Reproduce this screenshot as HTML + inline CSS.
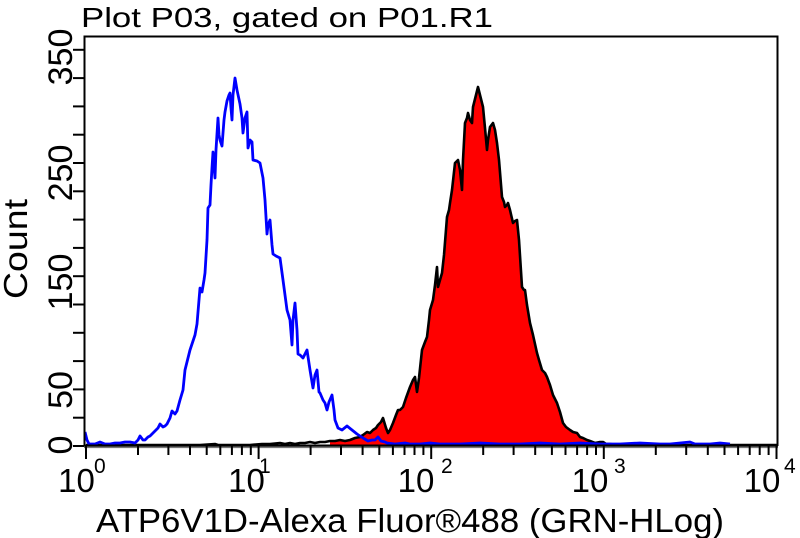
<!DOCTYPE html>
<html>
<head>
<meta charset="utf-8">
<style>
html,body{margin:0;padding:0;background:#fff;}
svg{display:block;}
text{font-family:"Liberation Sans",Arial,sans-serif;fill:#000;}
</style>
</head>
<body>
<svg width="800" height="538" viewBox="0 0 800 538" xmlns="http://www.w3.org/2000/svg">
<rect x="0" y="0" width="800" height="538" fill="#fff"/>

<!-- title -->
<text x="81" y="27" font-size="28" textLength="412" lengthAdjust="spacingAndGlyphs">Plot P03, gated on P01.R1</text>

<!-- red filled histogram -->
<polygon fill="#ff0000" stroke="none" points="330,446 330,441 340,440 350,440 355,438 360,437 363,435 367,432 370,433 373,430 376,428 378,425 381,422 383,418 386,428 388,433 390,430 393,423 396,415 398,410 400,410 403,407 406,398 410,387 413,380 415,377 417,392 419,378 422,350 425,342 427,337 429,320 430,310 433,300 435,285 437,267 438,287 440,280 442,273 444,255 447,217 449,210 450,203 452,190 455,163 458,160 460,170 462,190 463,160 465,123 467,118 468,113 470,120 472,123 473,107 476,95 478,87 480,95 482,103 483,107 485,128 487,150 488,140 490,127 493,123 495,130 497,143 499,160 502,197 504,202 505,207 507,205 508,203 510,210 513,223 515,221 517,220 519,240 522,287 524,290 525,290 527,305 530,323 533,335 537,353 539,360 542,370 545,373 547,377 550,385 553,395 557,403 560,412 563,423 566,427 570,430 573,432 577,433 580,437 583,438 587,440 590,441 595,443 600,442 603,442 606,444 610,446"/>

<!-- black outline -->
<polyline fill="none" stroke="#000" stroke-width="2.6" stroke-linejoin="round" points="86,445 150,445 200,445 215,444 218,445 250,445 262,444 270,444 280,443 285,444 290,443 295,444 300,443 305,443 310,442 315,443 320,442 325,442 330,441 335,441 340,440 345,441 350,440 355,438 360,437 363,435 367,432 370,433 373,430 376,428 378,425 381,422 383,418 386,428 388,433 390,430 393,423 396,415 398,410 400,410 403,407 406,398 410,387 413,380 415,377 417,392 419,378 422,350 425,342 427,337 429,320 430,310 433,300 435,285 437,267 438,287 440,280 442,273 444,255 447,217 449,210 450,203 452,190 455,163 458,160 460,170 462,190 463,160 465,123 467,118 468,113 470,120 472,123 473,107 476,95 478,87 480,95 482,103 483,107 485,128 487,150 488,140 490,127 493,123 495,130 497,143 499,160 502,197 504,202 505,207 507,205 508,203 510,210 513,223 515,221 517,220 519,240 522,287 524,290 525,290 527,305 530,323 533,335 537,353 539,360 542,370 545,373 547,377 550,385 553,395 557,403 560,412 563,423 566,427 570,430 573,432 577,433 580,437 583,438 587,440 590,441 595,443 600,442 603,442 606,444 610,444 620,445 640,444 660,445 700,445 778,445"/>

<!-- blue histogram -->
<polyline fill="none" stroke="#0000ff" stroke-width="2.8" stroke-linejoin="round" points="85,432 87,440 89,444 95,444 100,442 105,444 110,444 115,443 120,443 125,442 130,442 135,443 138,440 140,436 143,440 145,440 148,437 150,436 153,433 155,431 158,428 160,424 163,427 165,426 167,424 170,418 172,411 175,414 177,411 180,400 183,390 185,370 188,358 190,350 192,344 195,335 197,324 199,300 200,288 202,292 204,280 205,273 207,240 208,208 210,205 211,185 212,168 213,152 214,165 215,178 216,150 218,118 219,135 220,140 222,146 224,120 225,112 227,101 229,95 230,93 231,108 232,120 233,95 235,78 237,90 240,104 242,118 243,133 245,118 247,112 248,148 250,140 252,142 253,160 257,161 260,163 263,178 265,200 267,234 268,225 270,220 272,245 273,254 276,256 280,258 283,280 287,310 290,320 292,345 293,320 295,303 297,330 298,354 300,355 303,358 307,350 310,370 313,388 315,375 317,370 319,392 320,393 323,400 325,403 327,410 329,402 332,395 334,410 335,420 338,428 342,430 347,426 352,430 357,434 363,438 368,441 372,440 375,440 378,437 381,441 385,442 387,443 395,444 405,443 410,444 420,444 430,443 440,444 460,444 480,443 500,444 520,444 540,443 560,444 580,443 600,444 620,444 640,443 660,444 670,444 680,443 690,442 695,444 710,444 720,443 730,444"/>

<!-- bottom axis baseline (black + grey) -->
<line x1="84" y1="445.5" x2="778" y2="445.5" stroke="#000" stroke-width="2"/>
<line x1="84" y1="447.3" x2="778" y2="447.3" stroke="#777" stroke-width="1.6"/>

<!-- frame -->
<polyline fill="none" stroke="#000" stroke-width="2" points="84.5,446 84.5,36.5 777.5,36.5 777.5,446"/>

<!-- x ticks -->
<g stroke="#000" stroke-width="2">
<line x1="86" y1="446" x2="86" y2="459"/>
<line x1="138" y1="446" x2="138" y2="455"/>
<line x1="168.4" y1="446" x2="168.4" y2="455"/>
<line x1="190" y1="446" x2="190" y2="455"/>
<line x1="206.7" y1="446" x2="206.7" y2="455"/>
<line x1="220.3" y1="446" x2="220.3" y2="455"/>
<line x1="231.9" y1="446" x2="231.9" y2="455"/>
<line x1="241.9" y1="446" x2="241.9" y2="455"/>
<line x1="250.8" y1="446" x2="250.8" y2="455"/>
<line x1="258.6" y1="446" x2="258.6" y2="459"/>
<line x1="310.6" y1="446" x2="310.6" y2="455"/>
<line x1="341" y1="446" x2="341" y2="455"/>
<line x1="362.6" y1="446" x2="362.6" y2="455"/>
<line x1="379.3" y1="446" x2="379.3" y2="455"/>
<line x1="392.9" y1="446" x2="392.9" y2="455"/>
<line x1="404.5" y1="446" x2="404.5" y2="455"/>
<line x1="414.5" y1="446" x2="414.5" y2="455"/>
<line x1="423.4" y1="446" x2="423.4" y2="455"/>
<line x1="431.2" y1="446" x2="431.2" y2="459"/>
<line x1="483.2" y1="446" x2="483.2" y2="455"/>
<line x1="513.6" y1="446" x2="513.6" y2="455"/>
<line x1="535.2" y1="446" x2="535.2" y2="455"/>
<line x1="551.9" y1="446" x2="551.9" y2="455"/>
<line x1="565.5" y1="446" x2="565.5" y2="455"/>
<line x1="577.1" y1="446" x2="577.1" y2="455"/>
<line x1="587.1" y1="446" x2="587.1" y2="455"/>
<line x1="596" y1="446" x2="596" y2="455"/>
<line x1="603.8" y1="446" x2="603.8" y2="459"/>
<line x1="655.8" y1="446" x2="655.8" y2="455"/>
<line x1="686.2" y1="446" x2="686.2" y2="455"/>
<line x1="707.8" y1="446" x2="707.8" y2="455"/>
<line x1="724.5" y1="446" x2="724.5" y2="455"/>
<line x1="738.1" y1="446" x2="738.1" y2="455"/>
<line x1="749.7" y1="446" x2="749.7" y2="455"/>
<line x1="759.7" y1="446" x2="759.7" y2="455"/>
<line x1="768.6" y1="446" x2="768.6" y2="455"/>
<line x1="776.5" y1="446" x2="776.5" y2="459"/>
</g>

<!-- y ticks -->
<g stroke="#000" stroke-width="2">
<line x1="73" y1="446" x2="84" y2="446"/>
<line x1="73" y1="417.7" x2="84" y2="417.7"/>
<line x1="73" y1="389.4" x2="84" y2="389.4"/>
<line x1="73" y1="361.1" x2="84" y2="361.1"/>
<line x1="73" y1="332.8" x2="84" y2="332.8"/>
<line x1="73" y1="304.5" x2="84" y2="304.5"/>
<line x1="73" y1="276.2" x2="84" y2="276.2"/>
<line x1="73" y1="247.9" x2="84" y2="247.9"/>
<line x1="73" y1="219.6" x2="84" y2="219.6"/>
<line x1="73" y1="191.3" x2="84" y2="191.3"/>
<line x1="73" y1="163" x2="84" y2="163"/>
<line x1="73" y1="134.7" x2="84" y2="134.7"/>
<line x1="73" y1="106.4" x2="84" y2="106.4"/>
<line x1="73" y1="78.1" x2="84" y2="78.1"/>
<line x1="73" y1="49.8" x2="84" y2="49.8"/>
</g>

<!-- y tick labels (rotated) -->
<g font-size="34" text-anchor="middle">
<text transform="translate(72,57) rotate(-90)">350</text>
<text transform="translate(72,173) rotate(-90)">250</text>
<text transform="translate(72,282) rotate(-90)">150</text>
<text transform="translate(72,390) rotate(-90)">50</text>
<text transform="translate(72,445) rotate(-90)">0</text>
</g>

<!-- y axis title -->
<text transform="translate(27,249) rotate(-90)" font-size="33" text-anchor="middle" textLength="100" lengthAdjust="spacingAndGlyphs">Count</text>

<!-- x tick labels -->
<g font-size="33" text-anchor="middle">
<text x="76.5" y="492">10</text>
<text x="246.5" y="492">10</text>
<text x="416" y="492">10</text>
<text x="590" y="492">10</text>
<text x="762" y="492">10</text>
</g>
<g font-size="21">
<text x="94" y="473">0</text>
<text x="259" y="473">1</text>
<text x="441" y="473">2</text>
<text x="614" y="473">3</text>
<text x="784" y="473">4</text>
</g>

<!-- x axis title -->
<text x="96" y="532" font-size="33" textLength="628" lengthAdjust="spacingAndGlyphs">ATP6V1D-Alexa Fluor®488 (GRN-HLog)</text>
</svg>
</body>
</html>
